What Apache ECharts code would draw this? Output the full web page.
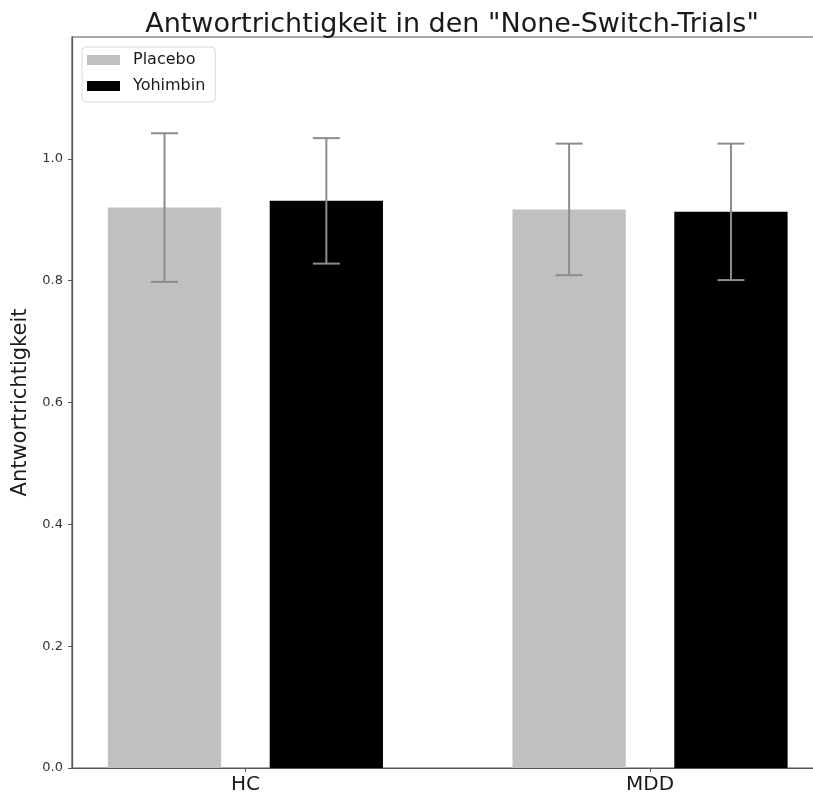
<!DOCTYPE html>
<html>
<head>
<meta charset="utf-8">
<script src="https://cdn.jsdelivr.net/npm/echarts@6/dist/echarts.min.js"></script>
<style>
html,body{margin:0;padding:0;background:#fff;}
#chart{width:813px;height:801px;}
</style>
</head>
<body>
<div id="chart"></div>
<script>
const categories = ['HC', 'MDD'];
const groupNames = ['Placebo', 'Yohimbin'];
const placeboMean = [0.920, 0.917];
const placeboErr = [0.122, 0.108];
const yohimbinMean = [0.931, 0.913];
const yohimbinErr = [0.103, 0.112];
const yTicks = [0.0, 0.2, 0.4, 0.6, 0.8, 1.0];

const OFFSET = 0.2;
const BAR_W = 0.28;
const FONT = 'DejaVu Sans';

function barData(means, shift) {
  return means.map((m, i) => [i + shift, m]);
}
function errData(means, errs, shift) {
  return means.map((m, i) => [i + shift, m - errs[i], m + errs[i]]);
}

function barItem(params, api) {
  const x = api.value(0), y = api.value(1);
  const p1 = api.coord([x - BAR_W / 2, y]);
  const p2 = api.coord([x + BAR_W / 2, 0]);
  return {
    type: 'rect',
    shape: { x: p1[0], y: p1[1], width: p2[0] - p1[0], height: p2[1] - p1[1] },
    style: { fill: api.visual('color') }
  };
}

function errItem(params, api) {
  const x = api.value(0);
  const lo = api.coord([x, api.value(1)]);
  const hi = api.coord([x, api.value(2)]);
  const cap = 13.5;
  const st = { stroke: '#8c8c8c', lineWidth: 2 };
  return {
    type: 'group',
    children: [
      { type: 'line', shape: { x1: lo[0], y1: lo[1], x2: hi[0], y2: hi[1] }, style: st },
      { type: 'line', shape: { x1: hi[0] - cap, y1: hi[1], x2: hi[0] + cap, y2: hi[1] }, style: st },
      { type: 'line', shape: { x1: lo[0] - cap, y1: lo[1], x2: lo[0] + cap, y2: lo[1] }, style: st }
    ]
  };
}

const chart = echarts.init(document.getElementById('chart'), null, { renderer: 'canvas' });
chart.setOption({
  animation: false,
  backgroundColor: '#fff',
  title: {
    text: 'Antwortrichtigkeit in den "None-Switch-Trials"',
    left: 447, textAlign: 'center', top: 6,
    textStyle: { fontFamily: FONT, fontSize: 27, fontWeight: 'normal', color: '#1a1a1a' }
  },
  legend: {
    data: groupNames.map(n => ({ name: n, icon: 'rect' })),
    orient: 'vertical',
    left: 82, top: 47,
    itemWidth: 33, itemHeight: 10, itemGap: 10,
    padding: [5, 10, 8, 5],
    borderColor: '#d9d9d9', borderWidth: 1, borderRadius: 4,
    textStyle: { fontFamily: FONT, fontSize: 16, lineHeight: 16, color: '#1a1a1a', padding: [0, 0, 0, 8] }
  },
  grid: {
    left: 72, width: 750, top: 37, bottom: 33,
    outerBoundsMode: 'none',
    containLabel: false,
    show: true, borderColor: '#555', borderWidth: 1.2
  },
  xAxis: {
    type: 'value', min: -0.4286, max: 1.425,
    splitLine: { show: false },
    axisLine: { show: true, onZero: false, lineStyle: { color: '#555', width: 1.2 } },
    axisTick: { show: true, customValues: [0, 1], length: 4, lineStyle: { color: '#555' } },
    axisLabel: {
      customValues: [0, 1],
      formatter: v => categories[Math.round(v)],
      fontFamily: FONT, fontSize: 20, color: '#1a1a1a', margin: 7
    }
  },
  yAxis: {
    type: 'value', min: 0, max: 1.2,
    name: 'Antwortrichtigkeit', nameLocation: 'middle', nameGap: 35,
    nameTextStyle: { fontFamily: FONT, fontSize: 21, color: '#1a1a1a' },
    splitLine: { show: false },
    axisLine: { show: true, onZero: false, lineStyle: { color: '#555', width: 1.2 } },
    axisTick: { show: true, customValues: yTicks, length: 4, lineStyle: { color: '#555' } },
    axisLabel: {
      customValues: yTicks,
      formatter: v => v.toFixed(1),
      fontFamily: FONT, fontSize: 13, color: '#333', margin: 9
    }
  },
  series: [
    {
      name: groupNames[0], type: 'custom', renderItem: barItem,
      itemStyle: { color: '#c0c0c0' },
      encode: { x: 0, y: 1 },
      data: barData(placeboMean, -OFFSET)
    },
    {
      name: groupNames[1], type: 'custom', renderItem: barItem,
      itemStyle: { color: '#000000' },
      encode: { x: 0, y: 1 },
      data: barData(yohimbinMean, OFFSET)
    },
    {
      name: 'errP', type: 'custom', renderItem: errItem, silent: true, z: 5,
      encode: { x: 0, y: [1, 2] },
      data: errData(placeboMean, placeboErr, -OFFSET)
    },
    {
      name: 'errY', type: 'custom', renderItem: errItem, silent: true, z: 5,
      encode: { x: 0, y: [1, 2] },
      data: errData(yohimbinMean, yohimbinErr, OFFSET)
    }
  ]
});
</script>
</body>
</html>
